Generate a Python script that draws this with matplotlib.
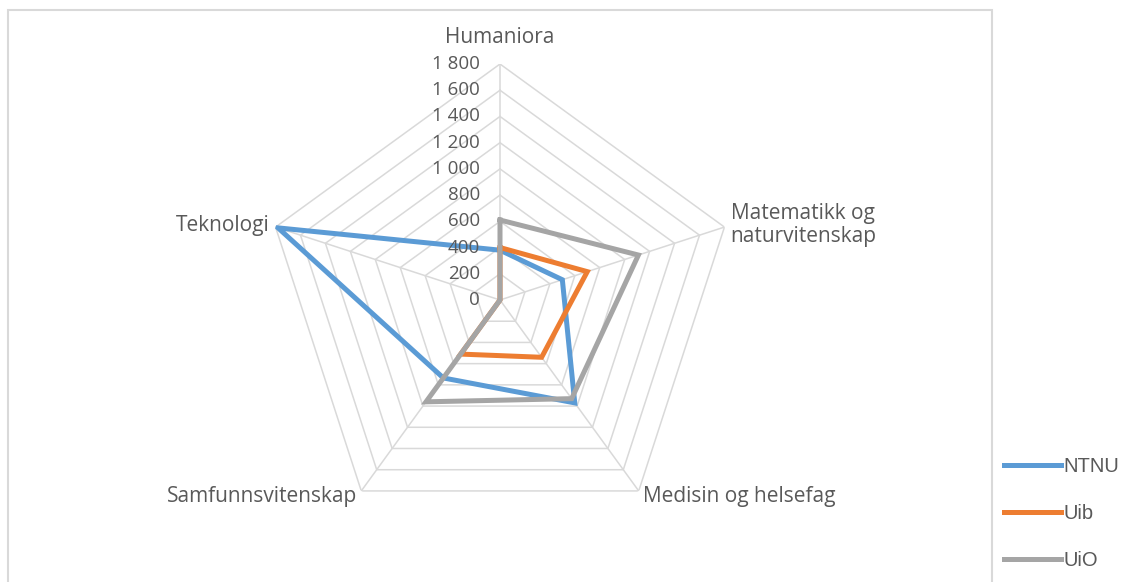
import numpy as np
import matplotlib
matplotlib.use("Agg")
import matplotlib.pyplot as plt
from matplotlib.patches import Rectangle

categories = ["Humaniora", "Matematikk og\nnaturvitenskap", "Medisin og helsefag",
              "Samfunnsvitenskap", "Teknologi"]
ntnu = [380, 500, 970, 735, 1780]
uib = [400, 700, 540, 510, 0]
uio = [610, 1110, 930, 960, 0]
series = ["NTNU", "Uib", "UiO"]
colors = ["#5B9BD5", "#ED7D31", "#A5A5A5"]
ring_levels = list(range(0, 1801, 200))
ring_labels = ["0" if v == 0 else f"{v // 1000} {v % 1000:03d}" if v >= 1000 else str(v)
               for v in ring_levels]

W, H = 1123, 582
fig = plt.figure(figsize=(W / 100, H / 100), dpi=100)
fig.patch.set_facecolor("white")

# chart border
fig.patches.append(Rectangle((8 / W, -0.05), 984 / W, 1.05 - 10 / H, transform=fig.transFigure,
                             fill=False, edgecolor="#D9D9D9", lw=1.5))

cx, cy, R = 500, 300, 236
ax = fig.add_axes([(cx - R) / W, (H - cy - R) / H, 2 * R / W, 2 * R / H], polar=True)
ax.set_theta_offset(np.pi / 2)
ax.set_theta_direction(-1)
ax.set_ylim(0, 1800)
ax.grid(False)
ax.spines["polar"].set_visible(False)
ax.set_xticks([])
ax.set_yticks([])
ax.patch.set_alpha(0)

n = len(categories)
theta = np.linspace(0, 2 * np.pi, n, endpoint=False)
theta_c = np.append(theta, theta[0])

# pentagon rings and spokes
for v in ring_levels[1:]:
    ax.plot(theta_c, [v] * (n + 1), color="#D9D9D9", lw=1.1, zorder=1)
for t in theta:
    ax.plot([t, t], [0, 1800], color="#D9D9D9", lw=1.1, zorder=1)

# data
for name, vals, c in zip(series, [ntnu, uib, uio], colors):
    ax.plot(theta_c, vals + vals[:1], color=c, lw=3.6, label=name, zorder=3,
            solid_joinstyle="miter")

# ring labels
for v, lab in zip(ring_levels, ring_labels):
    ax.annotate(lab, xy=(0, v), xytext=(-14.5, 0), textcoords="offset points",
                ha="right", va="center", fontsize=13.5, color="#595959",
                family="Open Sans", annotation_clip=False, zorder=4)

# category labels
lab_font = dict(fontsize=15, color="#595959", family="Open Sans")
ax.text(theta[0], 2000, categories[0], ha="center", va="center", clip_on=False, **lab_font)
ax.text(theta[1], 1850, categories[1], ha="left", va="center", clip_on=False,
        linespacing=1.15, **lab_font)
ax.text(theta[2], 1850, categories[2], ha="left", va="center", clip_on=False, **lab_font)
ax.text(theta[3], 1850, categories[3], ha="right", va="center", clip_on=False, **lab_font)
ax.text(theta[4], 1850, categories[4], ha="right", va="center", clip_on=False, **lab_font)

leg = fig.legend(loc="upper left", bbox_to_anchor=(1004 / W, 1 - 457 / H), frameon=False,
                 prop={"family": "Liberation Sans", "size": 14.5}, handlelength=2.83,
                 handletextpad=0.12, labelspacing=1.4, borderpad=0, borderaxespad=0)
for t in leg.get_texts():
    t.set_color("#595959")

fig.savefig("out.png", dpi=100)
